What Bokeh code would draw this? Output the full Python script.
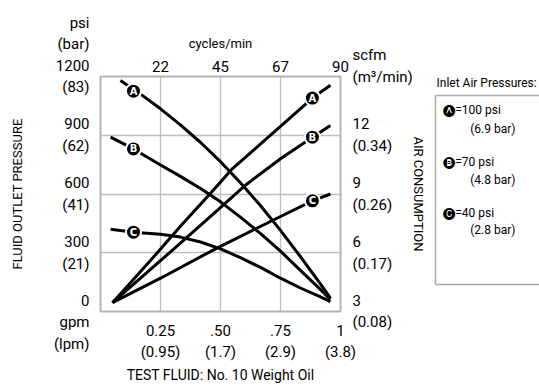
from bokeh.plotting import figure
from bokeh.models import Range1d, LinearAxis, FixedTicker
from bokeh.core.properties import value
from bokeh.embed import file_html
from bokeh.resources import INLINE

FONT = "Roboto"

# ---- tick data ----
flow_ticks = [0.25, 0.5, 0.75, 1.0]
flow_labels = ["0.25\n(0.95)", ".50\n(1.7)", ".75\n(2.9)", "1\n(3.8)"]
psi_ticks = [0, 300, 600, 900, 1200]
psi_labels = [" \n0\ngpm\n(lpm)", "300\n(21)", "600\n(41)", "900\n(62)",
              "psi\n(bar)\n1200\n(83)\n \n "]
scfm_ticks = [3, 6, 9, 12, 15]
scfm_labels = ["3\n(0.08)", "6\n(0.17)", "9\n(0.26)", "12\n(0.34)", "scfm\n(m³/min)\n "]
cycles_ticks = [22.5, 45, 67.5, 90]
cycles_labels = ["22", "45", "67", "90"]

# ---- fluid outlet pressure (psi) vs flow (gpm) ----
press_a_gpm = [0.083, 0.167, 0.25, 0.333, 0.417, 0.5, 0.583, 0.667, 0.75, 0.833, 0.917, 0.958]
press_a_psi = [1180, 1110, 1035, 953, 863, 765, 657, 540, 414, 280, 140, 68]
press_b_gpm = [0.042, 0.1375, 0.25, 0.333, 0.417, 0.5, 0.583, 0.667, 0.75, 0.833, 0.917, 0.958]
press_b_psi = [890, 830, 748, 690, 628, 560, 482, 398, 308, 210, 112, 62]
press_c_gpm = [0.042, 0.1375, 0.25, 0.333, 0.417, 0.5, 0.583, 0.667, 0.75, 0.833, 0.917, 0.958]
press_c_psi = [420, 405, 395, 380, 355, 320, 275, 225, 170, 120, 75, 50]

# ---- air consumption (scfm) vs flow (gpm) ----
air_a_gpm = [0.05, 0.208, 0.333, 0.467, 0.55, 0.75, 0.883, 0.958]
air_a_scfm = [3.45, 5.6, 7.35, 9.15, 10.3, 12.45, 13.9, 14.55]
air_b_gpm = [0.05, 0.292, 0.5125, 0.604, 0.75, 0.883, 0.958]
air_b_scfm = [3.45, 6.05, 8.45, 9.45, 10.8, 11.9, 12.5]
air_c_gpm = [0.05, 0.25, 0.479, 0.75, 0.883, 0.958]
air_c_scfm = [3.45, 4.7, 6.2, 7.85, 8.65, 9.0]

# ---- curve markers ----
letters = ["A", "B", "C"]
press_marker_gpm = [0.1375, 0.1375, 0.1375]
press_marker_psi = [1125, 830, 405]
air_marker_gpm = [0.883, 0.883, 0.883]
air_marker_scfm = [13.9, 11.9, 8.65]

# ---- legend texts ----
legend_title = "Inlet Air Pressures:"
legend_marks = ["\U0001F150", "\U0001F151", "\U0001F152"]
legend_psi = ["=100 psi", "=70 psi", "=40 psi"]
legend_bar = ["(6.9 bar)", "(4.8 bar)", "(2.8 bar)"]

W, H = 539, 386
FL, FR, FT, FB = 100, 340, 76, 316  # frame edges in page px

p = figure(width=W, height=H, x_range=Range1d(0, 1), y_range=Range1d(0, 1200),
           output_backend="svg", toolbar_location=None,
           x_axis_location=None, y_axis_location=None,
           min_border_left=FL, min_border_right=W - FR, min_border_top=FT, min_border_bottom=H - FB)
p.extra_y_ranges = {"scfm": Range1d(3, 15), "leg": Range1d(0, FB - FT)}
p.extra_x_ranges = {"cyc": Range1d(0, 90)}
p.background_fill_color = "white"
p.border_fill_color = "white"
p.outline_line_color = "#b3b3b3"
p.outline_line_width = 2

bottom_ax = LinearAxis()
left_ax = LinearAxis()
right_ax = LinearAxis(y_range_name="scfm")
top_ax = LinearAxis(x_range_name="cyc")
p.add_layout(bottom_ax, "below")
p.add_layout(left_ax, "left")
p.add_layout(right_ax, "right")
p.add_layout(top_ax, "above")

p.xgrid.ticker = FixedTicker(ticks=[0.25, 0.5, 0.75])
p.ygrid.ticker = FixedTicker(ticks=[300, 600, 900])
for g in (p.xgrid, p.ygrid):
    g.grid_line_color = "#bdbdbd"
    g.grid_line_width = 1.3

def style_axis(ax, ticks, labels, standoff, title, title_size, title_standoff, size="15px"):
    ax.ticker = FixedTicker(ticks=ticks)
    ax.major_label_overrides = {t: l for t, l in zip(ticks, labels)}
    ax.axis_line_color = None
    ax.major_tick_line_color = None
    ax.minor_tick_line_color = None
    ax.major_tick_out = 0
    ax.major_tick_in = 0
    ax.minor_tick_out = 0
    ax.minor_tick_in = 0
    ax.major_label_text_font = FONT
    ax.major_label_text_font_size = size
    ax.major_label_text_line_height = 1.2
    ax.major_label_text_color = "black"
    ax.major_label_standoff = standoff
    ax.axis_label = title
    ax.axis_label_text_font = FONT
    ax.axis_label_text_font_size = title_size
    ax.axis_label_text_font_style = "normal"
    ax.axis_label_text_color = "black"
    ax.axis_label_standoff = title_standoff

style_axis(bottom_ax, flow_ticks, flow_labels, 10, "TEST FLUID: No. 10 Weight Oil", "14px", 3)
style_axis(left_ax, psi_ticks, psi_labels, 11, "FLUID OUTLET PRESSURE", "13px", 26)
style_axis(right_ax, scfm_ticks, scfm_labels, 12, "AIR CONSUMPTION", "13px", -5)
style_axis(top_ax, cycles_ticks, cycles_labels, 5, "cycles/min", "13px", 7)

# ---- legend, built from extra axes stacked in the right panel ----
box_lo, box_hi = FB - 288, FB - 95

# gap between the AIR CONSUMPTION title and the legend box (invisible tick gives it width)
gap_ax = LinearAxis(y_range_name="leg")
style_axis(gap_ax, [box_lo], [""], 0, None, "13px", 0, size="1px")
gap_ax.major_tick_out = 7
p.add_layout(gap_ax, "right")

# legend box: axis line = left edge; two ticks turned outward = top and bottom edges
edge_ax = LinearAxis(y_range_name="leg", bounds=(box_lo, box_hi))
style_axis(edge_ax, [box_lo, box_hi], ["", ""], 0, None, "13px", 0, size="1px")
edge_ax.axis_line_color = "#aaaaaa"
edge_ax.axis_line_width = 1.5
edge_ax.major_tick_line_color = "#aaaaaa"
edge_ax.major_tick_line_width = 1.5
edge_ax.major_tick_in = -130
p.add_layout(edge_ax, "right")

# legend texts
leg_rows_y = [83, 110, 130, 163, 182, 215, 233]
leg_texts = [legend_title]
for mk, t1, t2 in zip(legend_marks, legend_psi, legend_bar):
    leg_texts += ["\u2007" + mk + t1, "\u2007" * 5 + t2]
leg_ax = LinearAxis(y_range_name="leg")
style_axis(leg_ax, [FB - y for y in leg_rows_y], leg_texts, 1, None, "13px", 0, size="12px")
p.add_layout(leg_ax, "right")

LW = 3
p.line(press_a_gpm, press_a_psi, line_color="black", line_width=LW)
p.line(press_b_gpm, press_b_psi, line_color="black", line_width=LW)
p.line(press_c_gpm, press_c_psi, line_color="black", line_width=LW)
p.line(air_a_gpm, air_a_scfm, line_color="black", line_width=LW, y_range_name="scfm")
p.line(air_b_gpm, air_b_scfm, line_color="black", line_width=LW, y_range_name="scfm")
p.line(air_c_gpm, air_c_scfm, line_color="black", line_width=LW, y_range_name="scfm")

p.scatter(press_marker_gpm, press_marker_psi, marker="circle", size=15,
          fill_color="black", line_color="white", line_width=2)
p.text(press_marker_gpm, press_marker_psi, text=letters, text_color="white",
       text_font=value("DejaVu Sans"), text_font_style="bold", text_font_size="10px",
       text_align="center", text_baseline="middle")
p.scatter(air_marker_gpm, air_marker_scfm, marker="circle", size=15, y_range_name="scfm",
          fill_color="black", line_color="white", line_width=2)
p.text(air_marker_gpm, air_marker_scfm, text=letters, text_color="white", y_range_name="scfm",
       text_font=value("DejaVu Sans"), text_font_style="bold", text_font_size="10px",
       text_align="center", text_baseline="middle")

open("out.html", "w").write(file_html(p, INLINE))
